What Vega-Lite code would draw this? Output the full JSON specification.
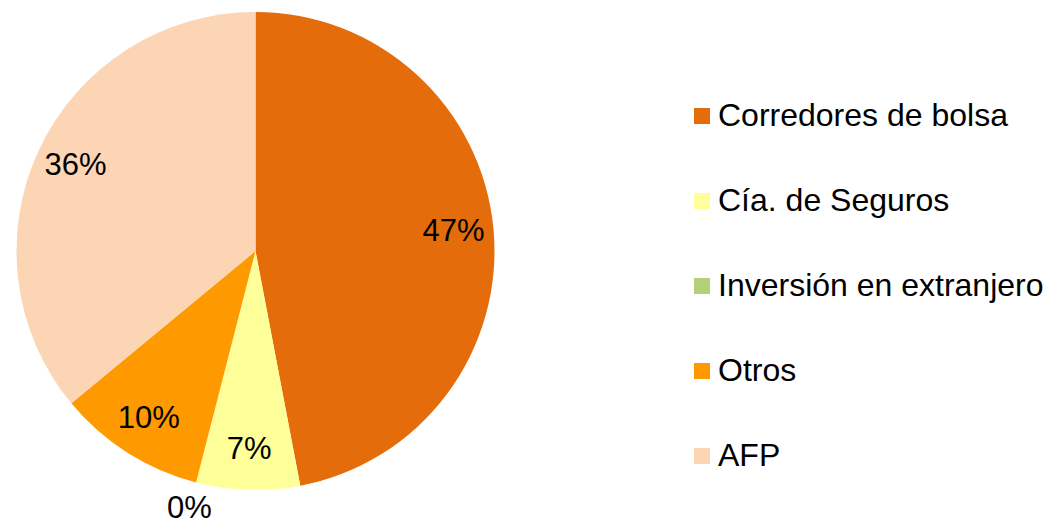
{
  "$schema": "https://vega.github.io/schema/vega-lite/v6.json",
  "width": 511,
  "height": 502,
  "padding": 0,
  "autosize": {"type": "pad"},
  "background": "white",
  "config": {"view": {"stroke": null}, "font": "Liberation Sans"},
  "data": {
    "values": [
      {"categoria": "Corredores de bolsa", "valor": 47, "orden": 1, "etiqueta": "47%"},
      {"categoria": "Cía. de Seguros", "valor": 7, "orden": 2, "etiqueta": "7%"},
      {"categoria": "Inversión en extranjero", "valor": 0, "orden": 3, "etiqueta": "0%"},
      {"categoria": "Otros", "valor": 10, "orden": 4, "etiqueta": "10%"},
      {"categoria": "AFP", "valor": 36, "orden": 5, "etiqueta": "36%"}
    ]
  },
  "encoding": {
    "theta": {"field": "valor", "type": "quantitative", "stack": true},
    "order": {"field": "orden", "type": "quantitative"},
    "color": {
      "field": "categoria",
      "type": "nominal",
      "sort": null,
      "scale": {
        "domain": ["Corredores de bolsa", "Cía. de Seguros", "Inversión en extranjero", "Otros", "AFP"],
        "range": ["#E46C0A", "#FFFF99", "#B3CF7A", "#FF9900", "#FCD5B5"]
      },
      "legend": {
        "title": null,
        "orient": "none",
        "legendX": 686,
        "legendY": 100,
        "padding": 0,
        "symbolType": "square",
        "symbolSize": 256,
        "symbolStrokeWidth": 0,
        "labelFontSize": 32,
        "labelFont": "Liberation Sans",
        "labelColor": "#000000",
        "labelOffset": 0,
        "labelLimit": 400,
        "rowPadding": 53
      }
    }
  },
  "layer": [
    {"mark": {"type": "arc", "outerRadius": 239}},
    {
      "mark": {"type": "text", "radius": 199, "fontSize": 31, "font": "Liberation Sans", "align": "center", "baseline": "middle"},
      "encoding": {
        "text": {"condition": {"test": "datum.valor == 0", "value": ""}, "field": "etiqueta"},
        "color": {"value": "#000000"}
      }
    },
    {
      "mark": {"type": "text", "radius": 266, "fontSize": 31, "font": "Liberation Sans", "align": "center", "baseline": "middle"},
      "encoding": {
        "text": {"condition": {"test": "datum.valor != 0", "value": ""}, "field": "etiqueta"},
        "color": {"value": "#000000"}
      }
    }
  ]
}
